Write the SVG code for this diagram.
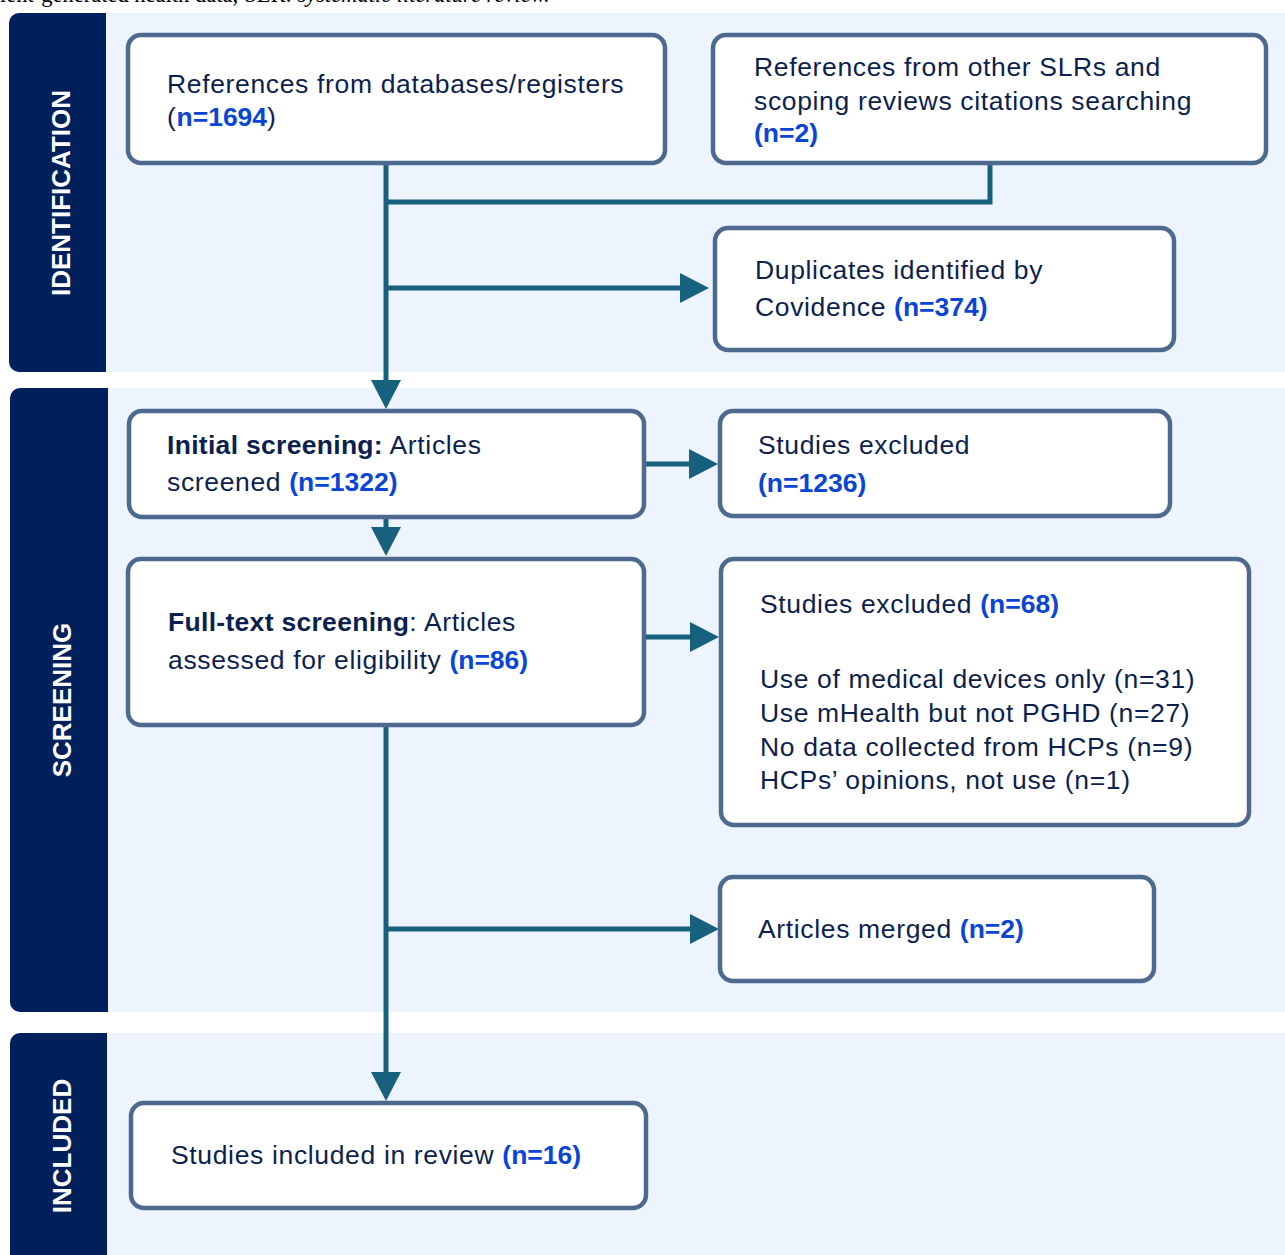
<svg xmlns="http://www.w3.org/2000/svg" width="1285" height="1255" viewBox="0 0 1285 1255">
<defs>
<style>
.band{fill:#EDF4FE}
.side{fill:#00205B}
.sidet{font-family:"Liberation Sans",Arial,sans-serif;font-weight:bold;font-size:26px;fill:#FFFFFF;text-anchor:middle}
.box{fill:#FFFFFF;stroke:#4D6A8E;stroke-width:4.5}
.t{font-family:"Liberation Sans",Arial,sans-serif;font-size:26.5px;fill:#0D1F4E;letter-spacing:0.65px}
.b{font-weight:bold;letter-spacing:0.3px}
.n{font-weight:bold;fill:#0A45D6;letter-spacing:0px}
.con{fill:none;stroke:#17617F;stroke-width:5}
.cap{font-family:"Liberation Serif","Times New Roman",serif;font-size:22.5px;fill:#000000}
</style>
<marker id="ah" markerUnits="userSpaceOnUse" markerWidth="30" markerHeight="30" refX="0" refY="15" orient="auto">
<path d="M0,0 L29,15 L0,30 Z" fill="#17617F"/>
</marker>
</defs>
<rect width="1285" height="1255" fill="#FFFFFF"/>
<text class="cap" x="0" y="2">ient-generated health data; SLR: <tspan font-style="italic">systematic literature review.</tspan></text>

<g id="band-identification">
<rect class="band" x="106" y="13" width="1179" height="359"/>
<path class="side" d="M106,13 H19 A10,10 0 0 0 9,23 V362 A10,10 0 0 0 19,372 H106 Z"/>
<text class="sidet" transform="translate(70,193) rotate(-90)">IDENTIFICATION</text>
</g>
<g id="band-screening">
<rect class="band" x="108" y="388" width="1177" height="624"/>
<path class="side" d="M108,388 H20 A10,10 0 0 0 10,398 V1002 A10,10 0 0 0 20,1012 H108 Z"/>
<text class="sidet" transform="translate(71,700) rotate(-90)">SCREENING</text>
</g>
<g id="band-included">
<rect class="band" x="107" y="1033" width="1178" height="222"/>
<path class="side" d="M107,1033 H20 A10,10 0 0 0 10,1043 V1255 H107 Z"/>
<text class="sidet" transform="translate(71,1146) rotate(-90)">INCLUDED</text>
</g>

<g id="connectors">
<path class="con" d="M386,163 V380" marker-end="url(#ah)"/>
<path class="con" d="M990,163 V202 H386"/>
<path class="con" d="M386,288 H680" marker-end="url(#ah)"/>
<path class="con" d="M644,464 H689" marker-end="url(#ah)"/>
<path class="con" d="M386,517 V527" marker-end="url(#ah)"/>
<path class="con" d="M644,637 H690" marker-end="url(#ah)"/>
<path class="con" d="M386,725 V1072" marker-end="url(#ah)"/>
<path class="con" d="M386,929 H690" marker-end="url(#ah)"/>
</g>

<g id="node-databases">
<rect class="box" x="128" y="35" width="537" height="128" rx="13"/>
<text class="t" x="167" y="93">References from databases/registers</text>
<text class="t" x="167" y="126">(<tspan class="n">n=1694</tspan>)</text>
</g>
<g id="node-other-slrs">
<rect class="box" x="713" y="35" width="553" height="128" rx="13"/>
<text class="t" x="754" y="76">References from other SLRs and</text>
<text class="t" x="754" y="110">scoping reviews citations searching</text>
<text class="t n" x="754" y="142">(n=2)</text>
</g>
<g id="node-duplicates">
<rect class="box" x="715" y="228" width="459" height="122" rx="13"/>
<text class="t" x="755" y="279">Duplicates identified by</text>
<text class="t" x="755" y="316">Covidence <tspan class="n">(n=374)</tspan></text>
</g>
<g id="node-initial-screening">
<rect class="box" x="129" y="411" width="515" height="106" rx="13"/>
<text class="t" x="167" y="454"><tspan class="b">Initial screening:</tspan> Articles</text>
<text class="t" x="167" y="491">screened <tspan class="n">(n=1322)</tspan></text>
</g>
<g id="node-excluded-1236">
<rect class="box" x="720" y="411" width="450" height="105" rx="13"/>
<text class="t" x="758" y="454">Studies excluded</text>
<text class="t n" x="758" y="492">(n=1236)</text>
</g>
<g id="node-full-text">
<rect class="box" x="128" y="559" width="516" height="166" rx="13"/>
<text class="t" x="168" y="631"><tspan class="b">Full-text screening</tspan>: Articles</text>
<text class="t" x="168" y="669">assessed for eligibility <tspan class="n">(n=86)</tspan></text>
</g>
<g id="node-excluded-68">
<rect class="box" x="721" y="559" width="528" height="266" rx="13"/>
<text class="t" x="760" y="613">Studies excluded <tspan class="n">(n=68)</tspan></text>
<text class="t" x="760" y="688">Use of medical devices only (n=31)</text>
<text class="t" x="760" y="722">Use mHealth but not PGHD (n=27)</text>
<text class="t" x="760" y="756">No data collected from HCPs (n=9)</text>
<text class="t" x="760" y="789">HCPs’ opinions, not use (n=1)</text>
</g>
<g id="node-merged">
<rect class="box" x="720" y="877" width="434" height="104" rx="13"/>
<text class="t" x="758" y="938">Articles merged <tspan class="n">(n=2)</tspan></text>
</g>
<g id="node-included">
<rect class="box" x="131" y="1103" width="515" height="105" rx="13"/>
<text class="t" x="171" y="1164">Studies included in review <tspan class="n">(n=16)</tspan></text>
</g>
</svg>
